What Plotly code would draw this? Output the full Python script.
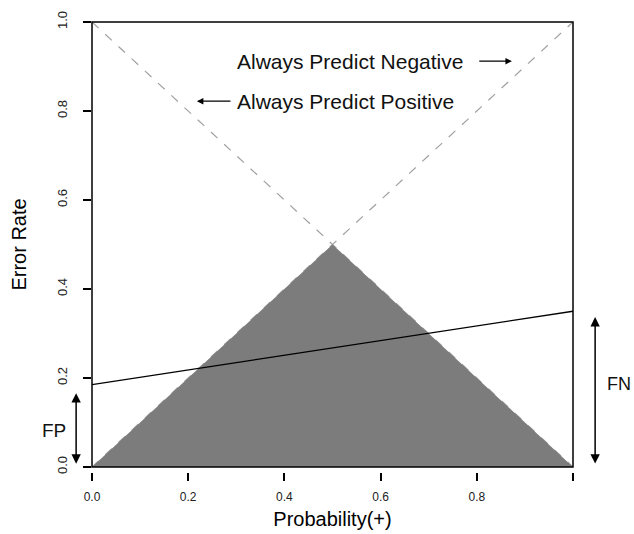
import plotly.graph_objects as go

# Cost-curve style error-rate chart
prob_x = [0.0, 0.5, 1.0]
lower_envelope = [0.0, 0.5, 0.0]          # min(p, 1-p)
always_neg_x = [0.0, 1.0]
always_neg_y = [0.0, 1.0]                  # error when always predicting negative
always_pos_x = [0.0, 1.0]
always_pos_y = [1.0, 0.0]                  # error when always predicting positive
classifier_x = [0.0, 1.0]
classifier_y = [0.185, 0.35]               # classifier line: FP at p=0, FN at p=1

x_tickvals = [0.0, 0.2, 0.4, 0.6, 0.8, 1.0]
x_ticktext = ["0.0", "0.2", "0.4", "0.6", "0.8", ""]
y_tickvals = [0.0, 0.2, 0.4, 0.6, 0.8, 1.0]
y_ticktext = ["0.0", "0.2", "0.4", "0.6", "0.8", "1.0"]

FONT = "Liberation Sans, Arial, Helvetica, sans-serif"

W, H = 634, 534
M_L, M_R, M_T, M_B = 92, 61, 22, 62
AXIS_GAP = 5                                # x axis sits a few px below the box
paper_h = H - M_T - M_B
y_dom0 = AXIS_GAP / paper_h

fig = go.Figure()

dash_style = dict(color="#a0a0a0", width=1.2, dash="dash")
fig.add_trace(go.Scatter(x=always_neg_x, y=always_neg_y, mode="lines",
                         line=dash_style, hoverinfo="skip"))
fig.add_trace(go.Scatter(x=always_pos_x, y=always_pos_y, mode="lines",
                         line=dash_style, hoverinfo="skip"))
fig.add_trace(go.Scatter(x=prob_x, y=lower_envelope, mode="lines",
                         fill="toself", fillcolor="#7c7c7c",
                         line=dict(color="#7c7c7c", width=0), hoverinfo="skip"))
fig.add_trace(go.Scatter(x=classifier_x, y=classifier_y, mode="lines",
                         line=dict(color="black", width=1.3), hoverinfo="skip"))

ann_font = dict(family=FONT, size=21, color="#111111")
side_font = dict(family=FONT, size=19, color="#111111")
annotations = [
    dict(x=0.297, y=0.912, text="Always Predict Negative", showarrow=False,
         xanchor="left", yanchor="middle", font=ann_font),
    dict(x=0.297, y=0.822, text="Always Predict Positive", showarrow=False,
         xanchor="left", yanchor="middle", font=ann_font),
    # arrow pointing right, towards the rising dashed line
    dict(x=0.873, y=0.912, ax=0.802, ay=0.912, xref="x", yref="y",
         axref="x", ayref="y", text="", showarrow=True, arrowhead=2,
         arrowsize=1, arrowwidth=1.3, arrowcolor="black"),
    # arrow pointing left, towards the falling dashed line
    dict(x=0.218, y=0.822, ax=0.291, ay=0.822, xref="x", yref="y",
         axref="x", ayref="y", text="", showarrow=True, arrowhead=2,
         arrowsize=1, arrowwidth=1.3, arrowcolor="black"),
    # FP double arrow left of the box
    dict(x=-0.033, y=0.166, ax=0, ay=72, xref="x domain", yref="y domain",
         text="", showarrow=True, arrowhead=2, arrowside="end+start",
         arrowsize=1.25, arrowwidth=1.5, arrowcolor="black"),
    dict(x=-0.079, y=0.081, text="FP", showarrow=False,
         xref="x domain", yref="y domain", xanchor="center", yanchor="middle",
         font=side_font),
    # FN double arrow right of the box
    dict(x=1.046, y=0.337, ax=0, ay=148, xref="x domain", yref="y domain",
         text="", showarrow=True, arrowhead=2, arrowside="end+start",
         arrowsize=1.25, arrowwidth=1.5, arrowcolor="black"),
    dict(x=1.066, y=0.187, text="FN", showarrow=False,
         xref="x domain", yref="y domain", xanchor="left", yanchor="middle",
         font=dict(family=FONT, size=18, color="#111111")),
]

# plot frame
shapes = [dict(type="rect", xref="x domain", yref="y domain",
               x0=0, x1=1, y0=0, y1=1, line=dict(color="black", width=1.5),
               layer="above")]

fig.update_layout(
    width=W, height=H,
    margin=dict(l=M_L, r=M_R, t=M_T, b=M_B),
    paper_bgcolor="white", plot_bgcolor="white",
    showlegend=False,
    annotations=annotations,
    shapes=shapes,
    font=dict(family=FONT, color="black"),
)
fig.update_xaxes(
    range=[0, 1], tickvals=x_tickvals, ticktext=x_ticktext,
    anchor="free", position=0, automargin=False,
    showgrid=False, zeroline=False, showline=False,
    ticks="outside", ticklen=8, tickwidth=1.5, tickcolor="black",
    ticklabelstandoff=6,
    tickfont=dict(family=FONT, size=12, color="#222222"),
    title=dict(text="Probability(+)", font=dict(family=FONT, size=20), standoff=8),
)
fig.update_yaxes(
    range=[0, 1], tickvals=y_tickvals, ticktext=y_ticktext,
    domain=[y_dom0, 1], automargin=False,
    showgrid=False, zeroline=False, showline=False,
    ticks="outside", ticklen=8, tickwidth=1.5, tickcolor="black",
    tickangle=-90, ticklabelstandoff=11,
    tickfont=dict(family=FONT, size=13, color="#222222"),
    title=dict(text="Error Rate", font=dict(family=FONT, size=20), standoff=22),
)

fig.write_html("out.html")
